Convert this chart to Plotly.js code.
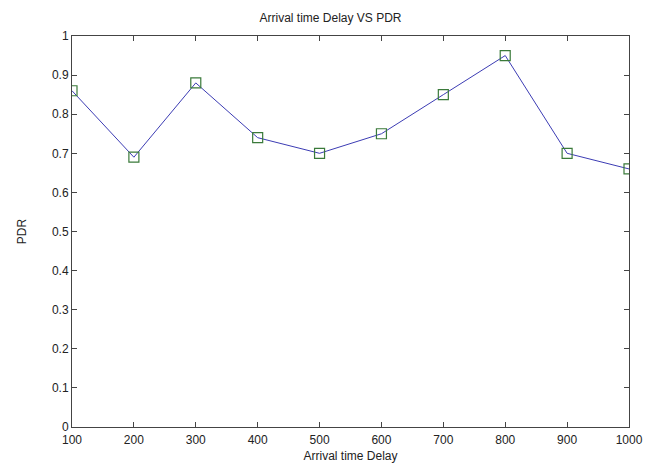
<!DOCTYPE html>
<html>
<head>
<meta charset="utf-8">
<script src="https://cdn.plot.ly/plotly-3.0.1.min.js"></script>
<style>html,body{margin:0;padding:0;background:#fff;}#chart{width:661px;height:468px;}</style>
</head>
<body>
<div id="chart"></div>
<script>
const arrivalDelay = [100, 200, 300, 400, 500, 600, 700, 800, 900, 1000];
const pdr = [0.86, 0.69, 0.88, 0.74, 0.70, 0.75, 0.85, 0.95, 0.70, 0.66];
const xTickVals = [100, 200, 300, 400, 500, 600, 700, 800, 900, 1000];
const yTickVals = [0, 0.1, 0.2, 0.3, 0.4, 0.5, 0.6, 0.7, 0.8, 0.9, 1];
const yTickText = ["0", "0.1", "0.2", "0.3", "0.4", "0.5", "0.6", "0.7", "0.8", "0.9", "1"];

const fontFam = "Liberation Sans, Arial, sans-serif";
const trace = {
  x: arrivalDelay,
  y: pdr,
  mode: "lines+markers",
  type: "scatter",
  line: {color: "#3c3cb4", width: 1},
  marker: {symbol: "square-open", size: 10, color: "#3a7a3a", line: {width: 1.2, color: "#3a7a3a"}},
  showlegend: false
};
const axisCommon = {
  showgrid: false, zeroline: false, showline: true, linecolor: "#444", linewidth: 1,
  mirror: "ticks", ticks: "inside", ticklen: 5, tickcolor: "#444", tickwidth: 1,
  tickfont: {family: fontFam, size: 12, color: "#222"}
};
const layout = {
  width: 661, height: 468,
  margin: {l: 72, r: 32, t: 36, b: 41},
  paper_bgcolor: "#fff", plot_bgcolor: "#fff",
  title: {text: "Arrival time Delay VS PDR", font: {family: fontFam, size: 12, color: "#222"}, x: 0.5, xanchor: "center", y: 0.963, yanchor: "middle"},
  xaxis: Object.assign({}, axisCommon, {
    range: [100, 1000], tickvals: xTickVals, ticktext: xTickVals.map(String),
    ticklabelstandoff: 2,
    title: {text: "Arrival time Delay", font: {family: fontFam, size: 12, color: "#222"}, standoff: 5}
  }),
  yaxis: Object.assign({}, axisCommon, {
    range: [0, 1], tickvals: yTickVals, ticktext: yTickText,
    title: {text: "PDR", font: {family: fontFam, size: 12, color: "#222"}, standoff: 22}
  })
};
Plotly.newPlot("chart", [trace], layout, {displayModeBar: false, staticPlot: true});
</script>
</body>
</html>
